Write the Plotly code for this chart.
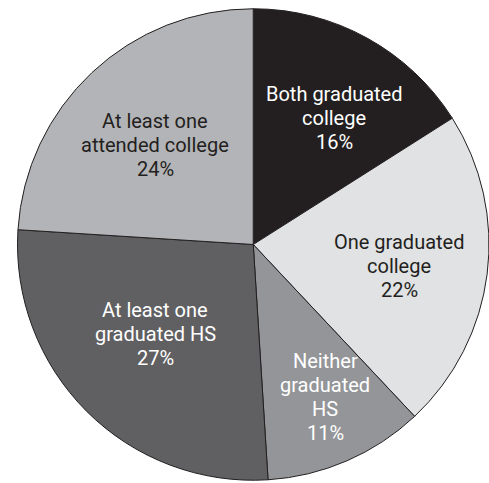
import plotly.graph_objects as go

# Parents' education level, share of students
categories = [
    "Both graduated<br>college",
    "One graduated<br>college",
    "Neither<br>graduated<br>HS",
    "At least one<br>graduated HS",
    "At least one<br>attended college",
]
shares = [16, 22, 11, 27, 24]

slice_colors = ["#231f20", "#e1e2e4", "#939598", "#606062", "#b3b4b7"]
label_colors = ["#ffffff", "#231f20", "#ffffff", "#ffffff", "#231f20"]

# label block centres in pixels (x from left, y from top)
label_pos = [(334, 118), (399, 266), (325, 397), (155, 334), (155, 145)]
LINE_GAP = 24

W, H = 489, 483
cx, cy, r = 253.5, 244.5, 236.0

fig = go.Figure(
    go.Pie(
        labels=[c.replace("<br>", " ") for c in categories],
        values=shares,
        sort=False,
        direction="clockwise",
        rotation=0,
        textinfo="none",
        hoverinfo="label+percent",
        marker=dict(colors=slice_colors, line=dict(color="#231f20", width=1)),
        domain=dict(
            x=[(cx - r) / W, min(1.0, (cx + r) / W)],
            y=[1 - (cy + r) / H, 1 - (cy - r) / H],
        ),
        showlegend=False,
    )
)

font_family = "Roboto, sans-serif"
for cat, val, col, (px, py) in zip(categories, shares, label_colors, label_pos):
    lines = cat.split("<br>") + [f"{val}%"]
    n = len(lines)
    for i, line in enumerate(lines):
        ly = py + (i - (n - 1) / 2) * LINE_GAP
        fig.add_annotation(
            x=px / W, y=1 - ly / H, xref="paper", yref="paper",
            text=line,
            showarrow=False,
            xanchor="center", yanchor="middle",
            align="center",
            font=dict(family=font_family, size=20, color=col),
        )

fig.update_layout(
    width=W, height=H,
    margin=dict(l=0, r=0, t=0, b=0),
    paper_bgcolor="white",
    plot_bgcolor="white",
)

fig.write_html("out.html")
